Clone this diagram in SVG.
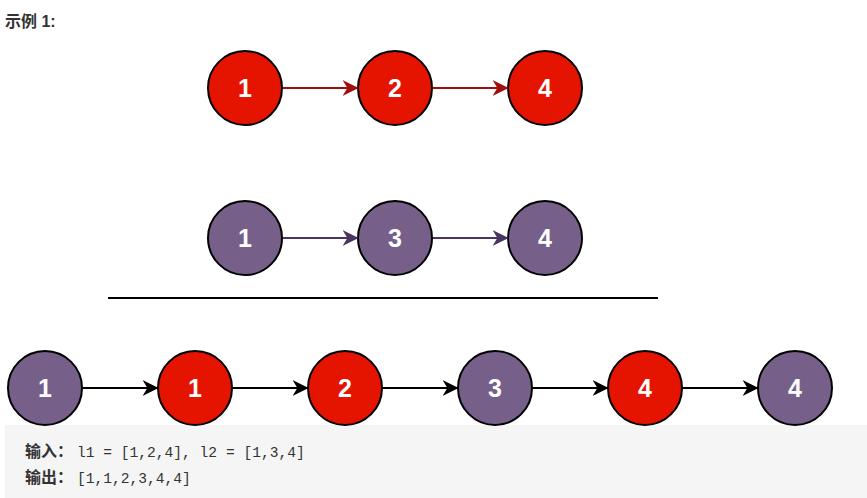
<svg xmlns="http://www.w3.org/2000/svg" width="867" height="498" viewBox="0 0 867 498">
<defs>
<marker id="arR" viewBox="0 0 10 10" refX="9" refY="5" markerWidth="16" markerHeight="16" markerUnits="userSpaceOnUse" orient="auto"><path d="M0,0 L10,5 L0,10 L3,5 Z" fill="#a20d0d"/></marker>
<marker id="arP" viewBox="0 0 10 10" refX="9" refY="5" markerWidth="16" markerHeight="16" markerUnits="userSpaceOnUse" orient="auto"><path d="M0,0 L10,5 L0,10 L3,5 Z" fill="#4a3560"/></marker>
<marker id="arK" viewBox="0 0 10 10" refX="9" refY="5" markerWidth="16" markerHeight="16" markerUnits="userSpaceOnUse" orient="auto"><path d="M0,0 L10,5 L0,10 L3,5 Z" fill="#000"/></marker>
</defs>
<style>
.red{fill:#e51400;stroke:#000;stroke-width:2}
.pur{fill:#76608a;stroke:#000;stroke-width:2}
.lbl{fill:#fff;font-family:"Liberation Sans",Arial,sans-serif;font-weight:bold;font-size:25px;text-anchor:middle}
.eR{stroke:#a20d0d;stroke-width:2;fill:none;marker-end:url(#arR)}
.eP{stroke:#4a3560;stroke-width:2;fill:none;marker-end:url(#arP)}
.eK{stroke:#000;stroke-width:2;fill:none;marker-end:url(#arK)}
.code{font-family:"Liberation Mono","DejaVu Sans Mono",monospace;font-size:14.6px;fill:#333}
.cjk{font-family:"Noto Sans CJK SC",sans-serif;font-weight:bold;font-size:16px;fill:#333}
</style>
<rect width="867" height="498" fill="#fff"/>
<text x="5" y="27" font-family="'Liberation Sans','Noto Sans CJK SC',sans-serif" font-weight="bold" font-size="16" fill="#333">示例 1:</text>
<g id="a1"><circle class="red" cx="245" cy="88" r="37"/><text class="lbl" x="245" y="97">1</text></g>
<g id="a2"><circle class="red" cx="395" cy="88" r="37"/><text class="lbl" x="395" y="97">2</text></g>
<g id="a4"><circle class="red" cx="545" cy="88" r="37"/><text class="lbl" x="545" y="97">4</text></g>
<g id="b1"><circle class="pur" cx="245" cy="238" r="37"/><text class="lbl" x="245" y="247">1</text></g>
<g id="b3"><circle class="pur" cx="395" cy="238" r="37"/><text class="lbl" x="395" y="247">3</text></g>
<g id="b4"><circle class="pur" cx="545" cy="238" r="37"/><text class="lbl" x="545" y="247">4</text></g>
<line x1="108" y1="298" x2="658" y2="298" stroke="#000" stroke-width="2"/>
<rect x="5" y="425" width="862" height="73" fill="#f5f5f5"/>
<g id="c1"><circle class="pur" cx="45" cy="388" r="37"/><text class="lbl" x="45" y="397">1</text></g>
<g id="c2"><circle class="red" cx="195" cy="388" r="37"/><text class="lbl" x="195" y="397">1</text></g>
<g id="c3"><circle class="red" cx="345" cy="388" r="37"/><text class="lbl" x="345" y="397">2</text></g>
<g id="c4"><circle class="pur" cx="495" cy="388" r="37"/><text class="lbl" x="495" y="397">3</text></g>
<g id="c5"><circle class="red" cx="645" cy="388" r="37"/><text class="lbl" x="645" y="397">4</text></g>
<g id="c6"><circle class="pur" cx="795" cy="388" r="37"/><text class="lbl" x="795" y="397">4</text></g>
<g id="edges">
<line class="eR" x1="283" y1="88" x2="357" y2="88"/>
<line class="eR" x1="433" y1="88" x2="507" y2="88"/>
<line class="eP" x1="283" y1="238" x2="357" y2="238"/>
<line class="eP" x1="433" y1="238" x2="507" y2="238"/>
<line class="eK" x1="83" y1="388" x2="157" y2="388"/>
<line class="eK" x1="233" y1="388" x2="307" y2="388"/>
<line class="eK" x1="383" y1="388" x2="457" y2="388"/>
<line class="eK" x1="533" y1="388" x2="607" y2="388"/>
<line class="eK" x1="683" y1="388" x2="757" y2="388"/>
</g>
<text class="cjk" x="25" y="457">输入：</text>
<text class="code" x="77" y="457">l1 = [1,2,4], l2 = [1,3,4]</text>
<text class="cjk" x="25" y="483">输出：</text>
<text class="code" x="77" y="483">[1,1,2,3,4,4]</text>
</svg>
